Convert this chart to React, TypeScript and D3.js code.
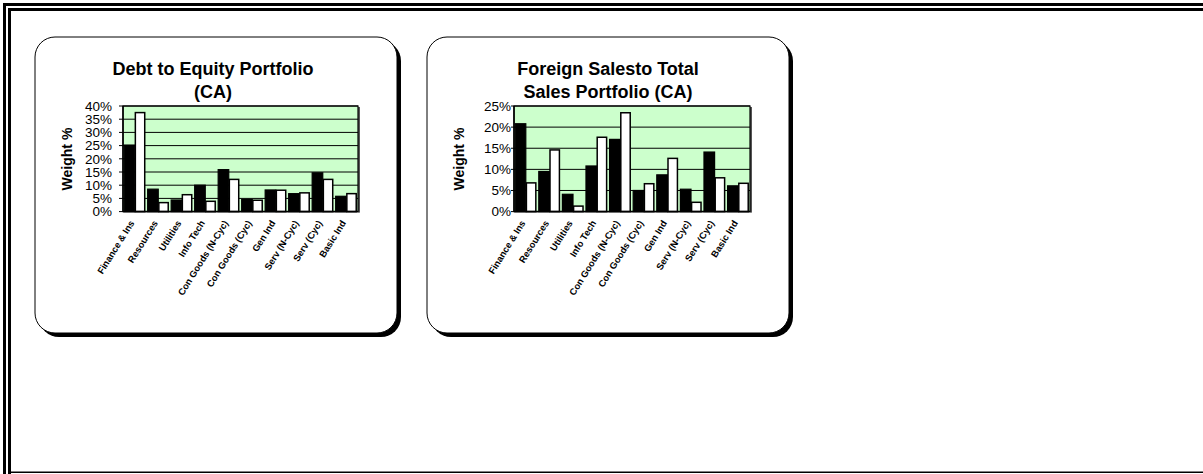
import React from "react";
import * as d3 from "d3";

const categories = [
  "Finance & Ins",
  "Resources",
  "Utilities",
  "Info Tech",
  "Con Goods (N-Cyc)",
  "Con Goods (Cyc)",
  "Gen Ind",
  "Serv (N-Cyc)",
  "Serv (Cyc)",
  "Basic Ind",
];

const debtPortfolio = [25.2, 8.5, 4.4, 10.0, 15.9, 4.6, 8.2, 6.8, 14.7, 5.8];
const debtBenchmark = [37.5, 3.4, 6.4, 3.9, 12.2, 4.3, 8.1, 7.1, 12.2, 6.8];
const foreignPortfolio = [20.8, 9.5, 4.1, 10.8, 17.1, 5.0, 8.7, 5.3, 14.1, 6.1];
const foreignBenchmark = [6.8, 14.6, 1.3, 17.6, 23.4, 6.6, 12.6, 2.2, 8.0, 6.7];

const debtTicks = [0, 5, 10, 15, 20, 25, 30, 35, 40];
const foreignTicks = [0, 5, 10, 15, 20, 25];

const debtTitle = ["Debt to Equity Portfolio", "(CA)"];
const foreignTitle = ["Foreign Salesto Total", "Sales Portfolio (CA)"];
const yAxisTitle = "Weight %";

const FONT = "Arial, 'Liberation Sans', Helvetica, sans-serif";

type ChartProps = {
  cardX: number;
  titleX: number;
  title: string[];
  ticks: number[];
  a: number[];
  b: number[];
  plotLeft: number;
  plotRight: number;
  labelGap: number;
  tickLen: number;
};

function Chart({ cardX, titleX, title, ticks, a, b, plotLeft, plotRight, labelGap, tickLen }: ChartProps) {
  const cardY = 37;
  const cardW = 362;
  const cardH = 296;
  const plotTop = 106;
  const plotBottom = 211.6;

  const y = d3
    .scaleLinear()
    .domain([0, d3.max(ticks) as number])
    .range([plotBottom, plotTop]);
  const x = d3
    .scaleBand<string>()
    .domain(categories)
    .range([plotLeft, plotRight])
    .paddingInner(0.1)
    .paddingOuter(0.05);
  const sub = d3
    .scaleBand<string>()
    .domain(["a", "b"])
    .range([0, x.bandwidth()]);

  return (
    <g>
      {/* card with shadow */}
      <rect x={cardX + 4} y={cardY + 4} width={cardW} height={cardH} rx={20} ry={20} fill="#000" />
      <rect x={cardX} y={cardY} width={cardW} height={cardH} rx={20} ry={20} fill="#fff" stroke="#000" strokeWidth={1} />
      {/* title */}
      {title.map((t, i) => (
        <text
          key={i}
          x={titleX}
          y={75 + i * 23}
          textAnchor="middle"
          fontFamily={FONT}
          fontWeight="bold"
          fontSize={18}
          fill="#000"
        >
          {t}
        </text>
      ))}
      {/* plot area */}
      <rect x={plotRight} y={plotTop + 1} width={2} height={plotBottom - plotTop} fill="#555" />
      <rect x={plotLeft} y={plotTop} width={plotRight - plotLeft} height={plotBottom - plotTop} fill="#CCFFCC" stroke="#000" strokeWidth={1.2} />
      {ticks.map((t) => (
        <line key={"g" + t} x1={plotLeft} x2={plotRight} y1={y(t)} y2={y(t)} stroke="#000" strokeWidth={1} />
      ))}
      {/* bars */}
      {categories.map((c, i) => (
        <g key={c}>
          <rect
            x={(x(c) as number) + (sub("a") as number)}
            y={y(a[i])}
            width={sub.bandwidth()}
            height={plotBottom - y(a[i])}
            fill="#000"
            stroke="#000"
            strokeWidth={1.2}
          />
          <rect
            x={(x(c) as number) + (sub("b") as number) + 0.6}
            y={y(b[i])}
            width={sub.bandwidth() - 1.2}
            height={plotBottom - y(b[i])}
            fill="#fff"
            stroke="#000"
            strokeWidth={1.5}
          />
        </g>
      ))}
      {/* axes */}
      <line x1={plotLeft} x2={plotRight} y1={plotBottom} y2={plotBottom} stroke="#000" strokeWidth={1.5} />
      <line x1={plotLeft} x2={plotLeft} y1={plotTop} y2={plotBottom} stroke="#000" strokeWidth={1.5} />
      {ticks.map((t) => (
        <g key={"t" + t}>
          <line x1={plotLeft - tickLen} x2={plotLeft} y1={y(t)} y2={y(t)} stroke="#000" strokeWidth={1} />
          <text
            x={plotLeft - labelGap}
            y={y(t)}
            dy="0.36em"
            textAnchor="end"
            fontFamily={FONT}
            fontSize={13.5}
            fill="#000"
          >
            {t + "%"}
          </text>
        </g>
      ))}
      {categories.map((c) => {
        const cx = (x(c) as number) + x.bandwidth() / 2;
        const ty = 223;
        return (
          <text
            key={"l" + c}
            x={cx}
            y={ty}
            transform={`rotate(-58 ${cx} ${ty})`}
            textAnchor="end"
            fontFamily={FONT}
            fontWeight="bold"
            fontSize={9.4}
            fill="#000"
          >
            {c}
          </text>
        );
      })}
      <text
        x={cardX + 32}
        y={159}
        transform={`rotate(-90 ${cardX + 32} 159)`}
        dy="0.35em"
        textAnchor="middle"
        fontFamily={FONT}
        fontWeight="bold"
        fontSize={14}
        fill="#000"
      >
        {yAxisTitle}
      </text>
    </g>
  );
}

export default function App() {
  return (
    <svg
      width={1203}
      height={474}
      style={{ position: "absolute", left: 0, top: 0, display: "block", background: "#fff" }}
    >
      <rect x={0} y={0} width={1203} height={474} fill="#fff" />
      {/* outer double frame */}
      <rect x={3} y={3} width={1200} height={3} fill="#000" />
      <rect x={3} y={3} width={3} height={471} fill="#000" />
      <rect x={8} y={8} width={1195} height={3} fill="#000" />
      <rect x={8} y={8} width={3} height={466} fill="#000" />
      <rect x={8} y={471.5} width={1195} height={1.5} fill="#000" />
      <Chart
        cardX={35}
        titleX={213}
        title={debtTitle}
        ticks={debtTicks}
        a={debtPortfolio}
        b={debtBenchmark}
        plotLeft={123}
        plotRight={358}
        labelGap={11}
        tickLen={4}
      />
      <Chart
        cardX={427}
        titleX={608}
        title={foreignTitle}
        ticks={foreignTicks}
        a={foreignPortfolio}
        b={foreignBenchmark}
        plotLeft={514}
        plotRight={750}
        labelGap={3}
        tickLen={3}
      />
    </svg>
  );
}
